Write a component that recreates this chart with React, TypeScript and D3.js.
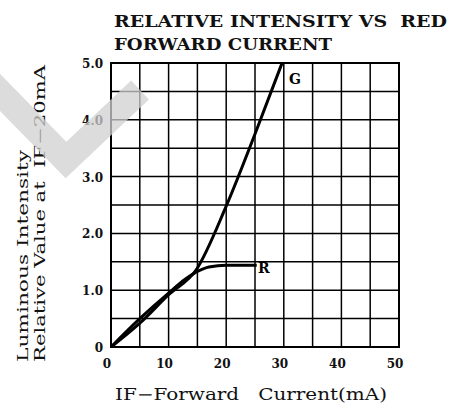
import React from "react";
import * as d3 from "d3";

const xTicks = [0, 10, 20, 30, 40, 50];
const yTicks = [0, 1, 2, 3, 4, 5];
const yTickLabels = ["0", "1.0", "2.0", "3.0", "4.0", "5.0"];
const xGrid = d3.range(0, 51, 5);
const yGrid = d3.range(0, 5.01, 0.5);

const gCurrent = [0, 5, 10, 14.8, 20, 25, 29.7];
const gValue = [0, 0.42, 0.92, 1.36, 2.48, 3.75, 5.0];
const rCurrent = [0, 5, 10, 13, 15, 17, 20, 25.3];
const rValue = [0, 0.5, 0.95, 1.2, 1.33, 1.41, 1.44, 1.44];

export default function App() {
  const W = 452, H = 406;
  const x = d3.scaleLinear().domain([0, 50]).range([111, 399]);
  const y = d3.scaleLinear().domain([0, 5]).range([347, 63]);
  const line = d3
    .line<[number, number]>()
    .x((d) => x(d[0]))
    .y((d) => y(d[1]))
    .curve(d3.curveMonotoneX);
  const gData = gCurrent.map((c, i) => [c, gValue[i]] as [number, number]);
  const rData = rCurrent.map((c, i) => [c, rValue[i]] as [number, number]);
  const serif = "'DejaVu Serif', 'Liberation Serif', serif";
  const pre = { whiteSpace: "pre" as const };
  return (
    <svg
      width={W}
      height={H}
      style={{ position: "absolute", left: 0, top: 0, background: "#fff" }}
    >
      <rect width={W} height={H} fill="#fff" />
      {/* title */}
      <text x={114} y={27} fontFamily={serif} fontWeight="bold" fontSize={17} textLength={333} lengthAdjust="spacingAndGlyphs" fill="#111" style={pre}>
        RELATIVE INTENSITY VS  RED
      </text>
      <text x={114} y={50} fontFamily={serif} fontWeight="bold" fontSize={17} textLength={218} lengthAdjust="spacingAndGlyphs" fill="#111" style={pre}>
        FORWARD CURRENT
      </text>
      {/* grid */}
      {xGrid.map((v) => (
        <line key={"gx" + v} x1={x(v)} x2={x(v)} y1={y(0)} y2={y(5)} stroke="#000" strokeWidth={1.5} />
      ))}
      {yGrid.map((v) => (
        <line key={"gy" + v} x1={x(0)} x2={x(50)} y1={y(v)} y2={y(v)} stroke="#000" strokeWidth={1.5} />
      ))}
      <rect x={x(0)} y={y(5)} width={x(50) - x(0)} height={y(0) - y(5)} fill="none" stroke="#000" strokeWidth={2} />
      {/* curves */}
      <path d={line(rData) || ""} fill="none" stroke="#000" strokeWidth={3} />
      <path d={line(gData) || ""} fill="none" stroke="#000" strokeWidth={3} />
      <text x={289} y={84} fontFamily={serif} fontWeight="bold" fontSize={14} fill="#000">G</text>
      <text x={258} y={273} fontFamily={serif} fontWeight="bold" fontSize={14} fill="#000">R</text>
      {/* ticks */}
      {yTicks.map((v, i) => (
        <text key={"ty" + v} x={103} y={y(v) + 5} textAnchor="end" fontFamily={serif} fontWeight="bold" fontSize={12} fill="#111">
          {yTickLabels[i]}
        </text>
      ))}
      {xTicks.map((v) => (
        <text key={"tx" + v} x={x(v) - 4} y={368} textAnchor="middle" fontFamily={serif} fontWeight="bold" fontSize={12} fill="#111">
          {v}
        </text>
      ))}
      {/* axis titles */}
      <text x={115} y={400} fontFamily={serif} fontSize={16} textLength={272} lengthAdjust="spacingAndGlyphs" fill="#111" style={pre}>
        IF−Forward   Current(mA)
      </text>
      <g transform="translate(28,362) rotate(-90)">
        <text x={0} y={0} fontFamily={serif} fontSize={15} textLength={212} lengthAdjust="spacingAndGlyphs" fill="#111" style={pre}>
          Luminous Intensity
        </text>
      </g>
      <g transform="translate(45,362) rotate(-90)">
        <text x={0} y={0} fontFamily={serif} fontSize={15} textLength={297} lengthAdjust="spacingAndGlyphs" fill="#111" style={pre}>
          Relative Value at  IF−20mA
        </text>
      </g>
      {/* watermark */}
      <polyline
        points="-10,82 66,160 140,90"
        fill="none"
        stroke="#d0d0d0"
        strokeOpacity={0.75}
        strokeWidth={26}
        strokeLinejoin="miter"
      />
    </svg>
  );
}
